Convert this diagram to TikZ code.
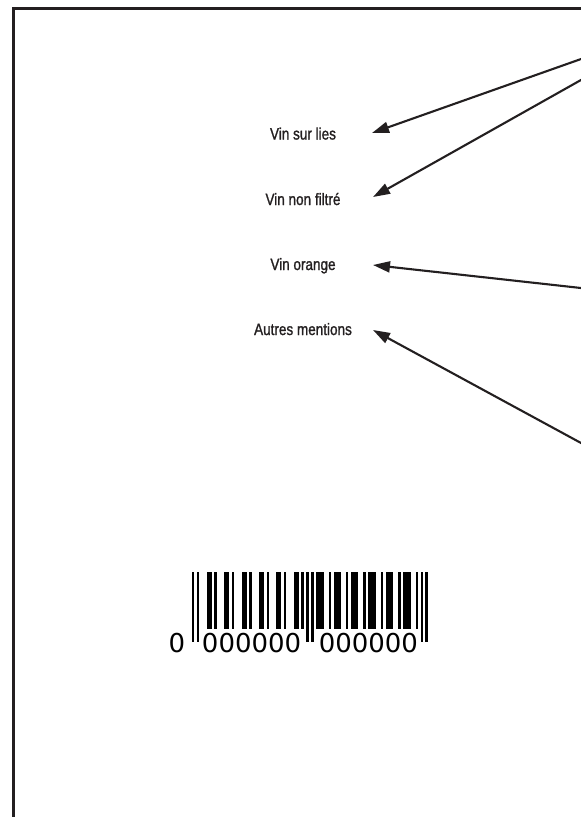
\documentclass[tikz,border=0pt]{standalone}
\usepackage{fontspec}
\usetikzlibrary{arrows.meta}
\newfontfamily\labelfont[FakeStretch=0.82,FakeBold=1.2]{Liberation Sans}
\newfontfamily\digitfont{DejaVu Sans}
\definecolor{ink}{HTML}{231F20}
\begin{document}
\begin{tikzpicture}[x=1pt,y=-1pt,
  lbl/.style={anchor=base, inner sep=0pt, font=\labelfont\fontsize{16.5}{18}\selectfont, text=ink},
  arr/.style={draw=ink, line width=2.1pt, -{Triangle[length=17pt,width=11pt]}},
  frame/.style={draw=ink, line width=2.8pt},
  dig/.style={anchor=base, inner sep=0pt, font=\digitfont\fontsize{26}{28}\selectfont, text=black},
  bar/.style={fill=black},
]
\useasboundingbox (0,0) rectangle (581,817);
\fill[white] (0,0) rectangle (581,817);
\clip (0,0) rectangle (581,817);
\draw[frame] (13.3,8.7) rectangle (600,840);

% labels
\node[lbl] (l1) at (303,139.5) {Vin sur lies};
\node[lbl] (l2) at (303,205) {Vin non filtré};
\node[lbl] (l3) at (303,270) {Vin orange};
\node[lbl] (l4) at (303,335) {Autres mentions};

% arrow ends
\coordinate (s1) at (600,52.3);
\coordinate (s2) at (600,69.3);
\coordinate (s3) at (600,290.1);
\coordinate (s4) at (600,453.3);
\coordinate (t1) at (372,133);
\coordinate (t2) at (373,197);
\coordinate (t3) at (373,265);
\coordinate (t4) at (373,330);
\draw[arr] (s1) -- (t1);
\draw[arr] (s2) -- (t2);
\draw[arr] (s3) -- (t3);
\draw[arr] (s4) -- (t4);

% barcode (EAN-13, all zeros)
\def\bx{192}
\def\bm{2.484}
\foreach \s in {0,2,46,48,92,94}
  \fill[bar] ({\bx+\s*\bm},572) rectangle ({\bx+(\s+1)*\bm},642);
\foreach \s/\w in {6/2,9/1,13/2,16/1,20/2,23/1,27/2,30/1,34/2,37/1,41/2,44/1,
                   50/3,55/1,57/3,62/1,64/3,69/1,71/3,76/1,78/3,83/1,85/3,90/1}
  \fill[bar] ({\bx+\s*\bm},572) rectangle ({\bx+(\s+\w)*\bm},629);
\node[dig] (d0) at (177,652) {0};
\node[dig] (d1) at (251.6,652) {000000};
\node[dig] (d2) at (368.4,652) {000000};
\end{tikzpicture}
\end{document}
